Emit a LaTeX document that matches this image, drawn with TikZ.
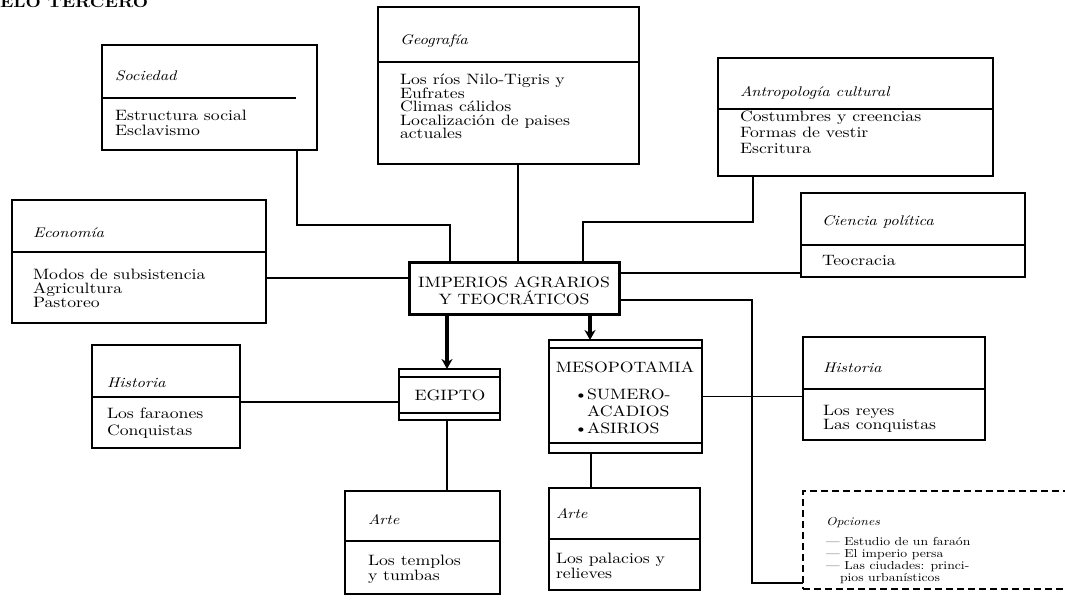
\documentclass[tikz,border=0pt]{standalone}
\usepackage{fontspec}
\setmainfont{lmroman10-regular.otf}[ItalicFont=lmroman10-italic.otf,BoldFont=lmroman10-bold.otf,FakeStretch=1.18]
\usetikzlibrary{arrows.meta}

\tikzset{
  catbox/.style={draw=drawColor,line width=1.8pt,inner sep=0pt,outer sep=0pt,rectangle},
  headbox/.style={catbox,line width=3pt},
  optbox/.style={catbox,line width=1.6pt,dash pattern=on 7pt off 4pt},
  ttl/.style={text=drawColor,anchor=base west,inner sep=0pt,outer sep=0pt,font=\fontsize{14}{14}\selectfont\itshape},
  itm/.style={text=drawColor,anchor=base west,inner sep=0pt,outer sep=0pt,font=\fontsize{15}{15}\selectfont},
  capt/.style={text=drawColor,anchor=base,inner sep=0pt,outer sep=0pt,font=\fontsize{15}{15}\selectfont},
  capw/.style={capt,anchor=base west},
  optl/.style={itm,font=\fontsize{11.6}{11.6}\selectfont},
  link/.style={draw=drawColor,line width=1.8pt},
  down/.style={draw=drawColor,line width=3.5pt,-{Stealth[length=10pt,width=11pt]}},
}

\begin{document}
\begin{tikzpicture}[x=1pt,y=-1pt]
\definecolor{drawColor}{RGB}{0,0,0}
\path[use as bounding box,fill=white] (0,0) rectangle (1065,601);

\node[itm,font=\fontsize{15}{15}\selectfont\bfseries] (header) at (0,8) {ELO TERCERO};

% boxes
\node[catbox,minimum width=215,minimum height=105] (soc) at (209.5,97.5) {};
\node[catbox,minimum width=261,minimum height=157] (geo) at (508.5,85.5) {};
\node[catbox,minimum width=275,minimum height=118] (antro) at (855.5,117) {};
\node[catbox,minimum width=224,minimum height=84] (cien) at (913,235) {};
\node[catbox,minimum width=254,minimum height=123] (econ) at (139,261.5) {};
\node[headbox,minimum width=210,minimum height=52] (imperios) at (514,289) {};
\node[catbox,minimum width=148,minimum height=103] (histeg) at (166,396.5) {};
\node[catbox,minimum width=101,minimum height=51] (egipto) at (449.5,394.5) {};
\node[catbox,minimum width=153,minimum height=113] (meso) at (625.5,396.5) {};
\node[catbox,minimum width=182,minimum height=103] (histme) at (894,388.5) {};
\node[catbox,minimum width=155,minimum height=103] (arteeg) at (422.5,542.5) {};
\node[catbox,minimum width=151,minimum height=102] (arteme) at (624.5,539) {};
\node[optbox,minimum width=277,minimum height=98] (opciones) at (941.5,540) {};

% separators
\path[link] ([yshift=-53pt]soc.north west) -- ([xshift=-21pt,yshift=-53pt]soc.north east);
\path[link] ([yshift=-55pt]geo.north west) -- ([yshift=-55pt]geo.north east);
\path[link] ([yshift=-51pt]antro.north west) -- ([yshift=-51pt]antro.north east);
\path[link] ([yshift=-52pt]cien.north west) -- ([yshift=-52pt]cien.north east);
\path[link] ([yshift=-52pt]econ.north west) -- ([yshift=-52pt]econ.north east);
\path[link] ([yshift=-52pt]histeg.north west) -- ([yshift=-52pt]histeg.north east);
\path[link] ([yshift=-52pt]histme.north west) -- ([yshift=-52pt]histme.north east);
\path[link] ([yshift=-50pt]arteeg.north west) -- ([yshift=-50pt]arteeg.north east);
\path[link] ([yshift=-51pt]arteme.north west) -- ([yshift=-51pt]arteme.north east);
\path[link] ([yshift=-8pt]egipto.north west) -- ([yshift=-8pt]egipto.north east);
\path[link] ([yshift=7pt]egipto.south west) -- ([yshift=7pt]egipto.south east);
\path[link] ([yshift=-8pt]meso.north west) -- ([yshift=-8pt]meso.north east);
\path[link] ([yshift=10pt]meso.south west) -- ([yshift=10pt]meso.south east);

% connectors
\path[link] ([xshift=-20pt]soc.south east) -- ++(0,75) -| ([xshift=41pt]imperios.north west);
\path[link] ([xshift=9.5pt]geo.south) -- ([xshift=4pt]imperios.north);
\path[link] ([xshift=35pt]antro.south west) -- ++(0,46) -| ([xshift=-36pt]imperios.north east);
\path[link] ([yshift=16pt]imperios.east) -- ([yshift=4pt]cien.south west);
\path[link] ([yshift=-16.5pt]econ.east) -- ([yshift=11pt]imperios.west);
\path[link] ([yshift=-11pt]imperios.east) -- ++(133,0) |- ([yshift=-43pt]opciones.west);
\path[link] ([yshift=-5.5pt]histeg.east) -- ([yshift=-7.5pt]egipto.west);
\path[link] (meso.east) -- (meso.east -| histme.west);
\path[link] ([xshift=-2.5pt]egipto.south) -- ([xshift=24.5pt]arteeg.north);
\path[link] ([xshift=-34.5pt]meso.south) -- ([xshift=-33.5pt]arteme.north);
\path[down] ([xshift=-67pt]imperios.south) -- ([xshift=-2.5pt]egipto.north);
\path[down] ([xshift=76pt]imperios.south) -- ([xshift=-35.5pt]meso.north);

% texts
\node[ttl] (soct) at (115,81) {Sociedad};
\node[itm] (soc1) at (115,121) {Estructura social};
\node[itm] (soc2) at (115,136) {Esclavismo};

\node[ttl] (geot) at (400,45) {Geografía};
\node[itm] (geo1) at (400,85) {Los ríos Nilo-Tigris y};
\node[itm] (geo2) at (400,98.5) {Eufrates};
\node[itm] (geo3) at (400,112) {Climas cálidos};
\node[itm] (geo4) at (400,125.5) {Localización de paises};
\node[itm] (geo5) at (400,139) {actuales};

\node[ttl] (antrot) at (740,97) {Antropología cultural};
\node[itm] (antro1) at (740,122) {Costumbres y creencias};
\node[itm] (antro2) at (740,138) {Formas de vestir};
\node[itm] (antro3) at (740,154) {Escritura};

\node[ttl] (ciet) at (822,226) {Ciencia política};
\node[itm] (cie1) at (822,266) {Teocracia};

\node[ttl] (econt) at (33,238) {Economía};
\node[itm] (econ1) at (33,280) {Modos de subsistencia};
\node[itm] (econ2) at (33,294) {Agricultura};
\node[itm] (econ3) at (33,308) {Pastoreo};

\node[capt] (imp1) at (514,288) {IMPERIOS AGRARIOS};
\node[capt] (imp2) at (514,305) {Y TEOCRÁTICOS};

\node[ttl] (histegt) at (107,388) {Historia};
\node[itm] (histeg1) at (107,418) {Los faraones};
\node[itm] (histeg2) at (107,435) {Conquistas};

\node[capt] (egit) at (450,400) {EGIPTO};

\node[capt] (mesot) at (625,373) {MESOPOTAMIA};
\node[capw] (bul1) at (574,399) {\textbullet};
\node[capw] (meso1) at (587,399) {SUMERO-};
\node[capw] (meso2) at (587,416) {ACADIOS};
\node[capw] (bul2) at (574,433) {\textbullet};
\node[capw] (meso3) at (587,433) {ASIRIOS};

\node[ttl] (histmet) at (823,373) {Historia};
\node[itm] (histme1) at (823,415) {Los reyes};
\node[itm] (histme2) at (823,429) {Las conquistas};

\node[ttl] (arteegt) at (368,524) {Arte};
\node[itm] (arteeg1) at (368,565) {Los templos};
\node[itm] (arteeg2) at (368,580) {y tumbas};

\node[ttl] (artemet) at (556,518) {Arte};
\node[itm] (arteme1) at (556,563) {Los palacios y};
\node[itm] (arteme2) at (556,578) {relieves};

\node[optl,font=\fontsize{11.6}{11.6}\selectfont\itshape] (optt) at (826,525) {Opciones};
\node[optl] (opt1) at (826,545) {— Estudio de un faraón};
\node[optl] (opt2) at (826,557) {— El imperio persa};
\node[optl] (opt3) at (826,569) {— Las ciudades: princi-};
\node[optl] (opt4) at (840,581) {pios urbanísticos};
\end{tikzpicture}
\end{document}
